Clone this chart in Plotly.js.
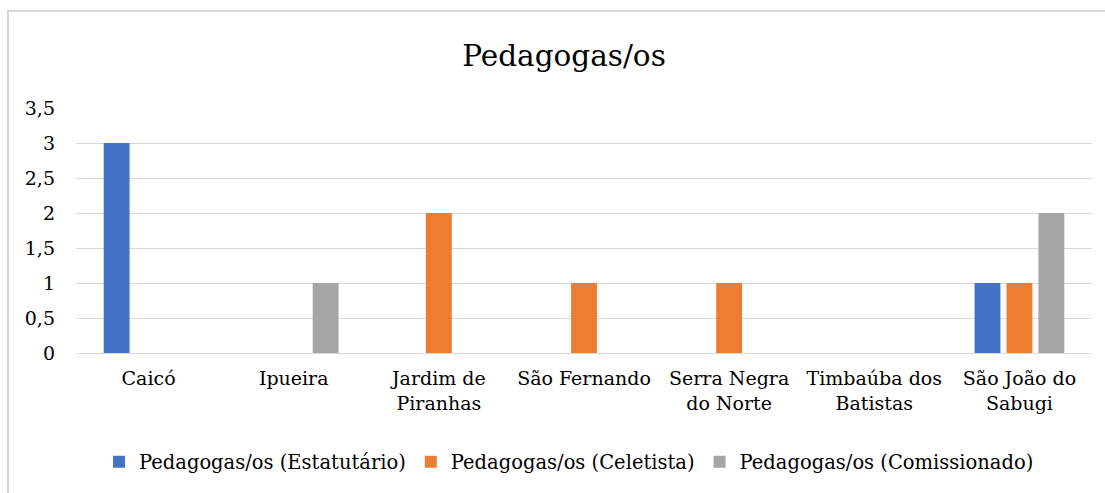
<!DOCTYPE html>
<html><head><meta charset="utf-8">
<script src="https://cdn.plot.ly/plotly-3.0.1.min.js"></script>
<style>
html,body{margin:0;padding:0;background:#fff;}
#wrap{position:relative;width:1105px;height:493px;}
#chart{width:1105px;height:493px;}
#frame{position:absolute;left:7px;top:10px;width:1105px;height:493px;border-left:2px solid #d9d9d9;border-top:2px solid #d9d9d9;pointer-events:none;}
</style></head>
<body><div id="wrap"><div id="chart"></div><div id="frame"></div></div>
<script>
const categories = ["Caicó","Ipueira","Jardim de<br>Piranhas","São Fernando","Serra Negra<br>do Norte","Timbaúba dos<br>Batistas","São João do<br>Sabugi"];
const estatutario = [3,0,0,0,0,0,1];
const celetista = [0,0,2,1,1,0,1];
const comissionado = [0,1,0,0,0,0,2];
const seriesNames = ["Pedagogas/os (Estatutário)","Pedagogas/os (Celetista)","Pedagogas/os (Comissionado)"];
const colors = ["#4472c4","#ed7d31","#a5a5a5"];
const yTicks = [0,0.5,1,1.5,2,2.5,3,3.5];
const yTickText = ["0","0,5","1","1,5","2","2,5","3","3,5"];

const FAM = "DejaVu Serif";
const f = (s)=>({family:FAM, size:s, color:"#000"});
const traces = [estatutario, celetista, comissionado].map((v,i)=>({
  type:"bar", x:categories, y:v, name:seriesNames[i], marker:{color:colors[i]}, hoverinfo:"none"
}));
const layout = {
  width:1105, height:493,
  margin:{l:76, r:13, t:108, b:140},
  paper_bgcolor:"#fff", plot_bgcolor:"#fff",
  font:f(19),
  title:{text:"Pedagogas/os", font:f(29.5), x:564/1105, xanchor:"center", xref:"container", y:1-56/493, yanchor:"middle", yref:"container"},
  barmode:"group", bargap:0.34, bargroupgap:0.19,
  xaxis:{tickfont:f(19), showline:true, linecolor:"#d9d9d9", linewidth:1, ticks:"", showgrid:false, automargin:false, ticklabelstandoff:8},
  yaxis:{range:[0,3.5], tickvals:yTicks, ticktext:yTickText, tickfont:f(19), showgrid:true, gridcolor:"#d9d9d9", gridwidth:1, zeroline:false, ticks:"", ticklen:0, automargin:false, fixedrange:true, ticklabelstandoff:20},
  showlegend:true,
  legend:{orientation:"h", x:569/1105, xanchor:"center", xref:"container", y:1-462/493, yanchor:"middle", yref:"container", font:f(19.5), itemwidth:30, traceorder:"normal"}
};
Plotly.newPlot("chart", traces, layout, {displayModeBar:false, staticPlot:true});
</script></body></html>
